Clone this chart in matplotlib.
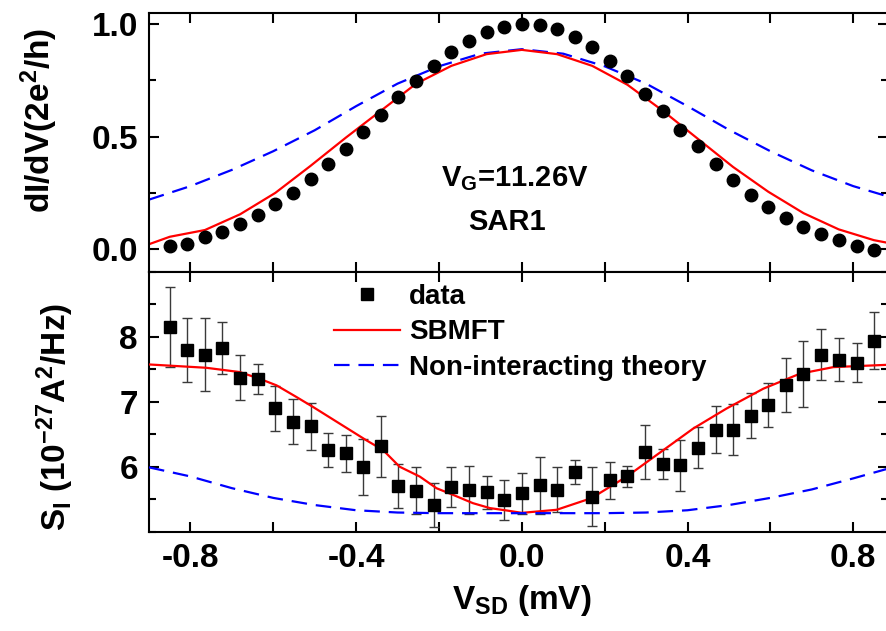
import matplotlib
matplotlib.use('Agg')
import matplotlib.pyplot as plt
from matplotlib.ticker import MultipleLocator

# fonts: bold Arial-like everywhere, mathtext mapped to the same font
plt.rcParams['font.family'] = ['Liberation Sans', 'DejaVu Sans']
plt.rcParams['font.weight'] = 'bold'
plt.rcParams['mathtext.fontset'] = 'custom'
plt.rcParams['mathtext.rm'] = 'Liberation Sans:bold'
plt.rcParams['mathtext.it'] = 'Liberation Sans:bold'
plt.rcParams['mathtext.bf'] = 'Liberation Sans:bold'
plt.rcParams['mathtext.default'] = 'rm'
plt.rcParams['axes.unicode_minus'] = False

# measured points (V_SD in mV)
vsd = [-0.85, -0.808, -0.765, -0.723, -0.68, -0.638, -0.595, -0.553, -0.51, -0.468,
       -0.425, -0.383, -0.34, -0.298, -0.255, -0.213, -0.17, -0.128, -0.085, -0.043,
       0.0, 0.043, 0.085, 0.128, 0.17, 0.213, 0.255, 0.298, 0.34, 0.383,
       0.425, 0.468, 0.51, 0.553, 0.595, 0.638, 0.68, 0.723, 0.765, 0.808, 0.85]

# dI/dV in units of 2e^2/h
didv = [0.012, 0.025, 0.052, 0.075, 0.114, 0.150, 0.199, 0.249, 0.310, 0.376,
        0.446, 0.521, 0.597, 0.674, 0.746, 0.815, 0.875, 0.923, 0.963, 0.988,
        1.0, 0.997, 0.976, 0.942, 0.897, 0.836, 0.770, 0.689, 0.615, 0.531,
        0.456, 0.376, 0.308, 0.239, 0.189, 0.139, 0.099, 0.066, 0.041, 0.015, -0.003]

# shot noise S_I (1e-27 A^2/Hz) and error bars
noise = [8.155, 7.797, 7.721, 7.828, 7.369, 7.353, 6.899, 6.69, 6.623, 6.256,
         6.205, 6.0, 6.317, 5.704, 5.633, 5.413, 5.684, 5.643, 5.607, 5.49,
         5.592, 5.714, 5.643, 5.918, 5.535, 5.79, 5.852, 6.22, 6.041, 6.021,
         6.291, 6.572, 6.572, 6.786, 6.955, 7.261, 7.419, 7.721, 7.649, 7.603, 7.94]
noise_err = [0.615, 0.493, 0.561, 0.40, 0.345, 0.23, 0.345, 0.347, 0.362, 0.265,
             0.283, 0.431, 0.47, 0.334, 0.357, 0.342, 0.306, 0.365, 0.255, 0.306,
             0.314, 0.434, 0.347, 0.189, 0.454, 0.281, 0.163, 0.416, 0.235, 0.393,
             0.314, 0.365, 0.385, 0.35, 0.337, 0.419, 0.508, 0.39, 0.332, 0.299, 0.442]

# theory curves, conductance panel
v_sb_g = [-0.9, -0.85, -0.765, -0.68, -0.595, -0.51, -0.425, -0.34, -0.255, -0.17, -0.085,
          0.0, 0.085, 0.17, 0.255, 0.34, 0.425, 0.51, 0.595, 0.68, 0.765, 0.85, 0.884]
sb_g = [0.022, 0.055, 0.085, 0.155, 0.25, 0.37, 0.495, 0.615, 0.735, 0.814, 0.866,
        0.885, 0.866, 0.814, 0.73, 0.615, 0.49, 0.365, 0.255, 0.16, 0.088, 0.04, 0.028]
v_ni_g = [-0.9, -0.8, -0.7, -0.6, -0.5, -0.4, -0.3, -0.2, -0.1, 0.0,
          0.1, 0.2, 0.3, 0.4, 0.5, 0.6, 0.7, 0.8, 0.884]
ni_g = [0.22, 0.28, 0.352, 0.435, 0.528, 0.635, 0.735, 0.812, 0.868, 0.888,
        0.868, 0.812, 0.735, 0.635, 0.53, 0.435, 0.35, 0.28, 0.234]

# theory curves, noise panel
v_sb_s = [-0.9, -0.762, -0.681, -0.633, -0.592, -0.544, -0.504, -0.44, -0.376, -0.335,
          -0.295, -0.246, -0.206, -0.166, -0.118, -0.077, -0.037, 0.0, 0.084, 0.168,
          0.253, 0.333, 0.414, 0.494, 0.583, 0.671, 0.752, 0.884]
sb_s = [7.573, 7.522, 7.456, 7.353, 7.251, 7.072, 6.919, 6.664, 6.409, 6.256,
        6.0, 5.847, 5.669, 5.567, 5.439, 5.363, 5.327, 5.29, 5.337, 5.516,
        5.847, 6.215, 6.588, 6.894, 7.2, 7.43, 7.532, 7.568]
v_ni_s = [-0.9, -0.8, -0.7, -0.6, -0.5, -0.4, -0.3, -0.2, -0.1, 0.0,
          0.1, 0.2, 0.3, 0.4, 0.5, 0.6, 0.7, 0.8, 0.884]
ni_s = [5.99, 5.85, 5.67, 5.52, 5.41, 5.33, 5.295, 5.285, 5.285, 5.285,
        5.285, 5.285, 5.295, 5.33, 5.41, 5.52, 5.65, 5.82, 5.97]

W, H = 886, 631
fig = plt.figure(figsize=(W / 100, H / 100), dpi=100)
left, right = 149, 888
ax1 = fig.add_axes([left / W, 1 - 271.7 / H, (right - left) / W, (271.7 - 12.7) / H])
ax2 = fig.add_axes([left / W, 1 - 531.7 / H, (right - left) / W, (531.7 - 271.7) / H])

# top: conductance
ax1.plot(v_ni_g, ni_g, color='#0000ff', lw=1.6, dashes=(7, 4))
ax1.plot(v_sb_g, sb_g, color='#ff0000', lw=1.6)
ax1.plot(vsd, didv, 'o', color='black', ms=9, mec='black')
ax1.text(-0.017, 0.312, r'V$_\mathrm{G}$=11.26V', fontsize=21, ha='center', va='center')
ax1.text(-0.036, 0.119, 'SAR1', fontsize=21, ha='center', va='center')
ax1.set_ylim(-0.1, 1.05)
ax1.set_yticks([0.0, 0.5, 1.0])
ax1.set_yticklabels(['0.0', '0.5', '1.0'])
ax1.yaxis.set_minor_locator(MultipleLocator(0.25))
ax1.tick_params(labelbottom=False)

# bottom: noise
ax2.errorbar(vsd, noise, yerr=noise_err, fmt='none', ecolor='#3a3a3a',
             elinewidth=1.0, capsize=3.8, capthick=1.0, zorder=2)
ax2.plot(vsd, noise, 's', color='black', ms=8, label='data', zorder=4)
ax2.plot(v_sb_s, sb_s, color='#ff0000', lw=1.6, label='SBMFT', zorder=3)
ax2.plot(v_ni_s, ni_s, color='#0000ff', lw=1.6, dashes=(7, 4),
         label='Non-interacting theory', zorder=3)
ax2.set_ylim(5.0, 9.0)
ax2.set_yticks([6, 7, 8])
ax2.yaxis.set_minor_locator(MultipleLocator(0.5))
ax2.legend(loc='upper left', bbox_to_anchor=(0.25, 0.952), frameon=False,
           fontsize=20, handlelength=2.4, handletextpad=0.3, labelspacing=0.33,
           borderpad=0, borderaxespad=0, numpoints=1)

for ax in (ax1, ax2):
    ax.set_xlim(-0.9, 0.884)
    ax.xaxis.set_major_locator(MultipleLocator(0.4))
    ax.xaxis.set_minor_locator(MultipleLocator(0.2))
    ax.tick_params(which='both', direction='in', top=True, right=True, width=1.5,
                   labelsize=24, pad=8)
    ax.tick_params(axis='x', which='both', length=7.5)
    ax.tick_params(axis='y', which='major', length=7.5)
    ax.tick_params(axis='y', which='minor', length=5)
    for s in ax.spines.values():
        s.set_linewidth(1.5)

ax2.set_xticks([-0.8, -0.4, 0.0, 0.4, 0.8])
ax2.set_xticklabels(['-0.8', '-0.4', '0.0', '0.4', '0.8'])

# axis titles
fig.text(39 / W, 1 - 120 / H, 'dI/dV(2e$^2$/h)', rotation=90, fontsize=24,
         ha='center', va='center')
fig.text(55 / W, 1 - 417 / H, 'S$_\\mathrm{I}$ (10$^{-27}$A$^2$/Hz)', rotation=90,
         fontsize=24, ha='center', va='center')
fig.text(522 / W, 1 - 600 / H, 'V$_\\mathrm{SD}$ (mV)', fontsize=24,
         ha='center', va='center')

fig.savefig('out.png', dpi=100)
